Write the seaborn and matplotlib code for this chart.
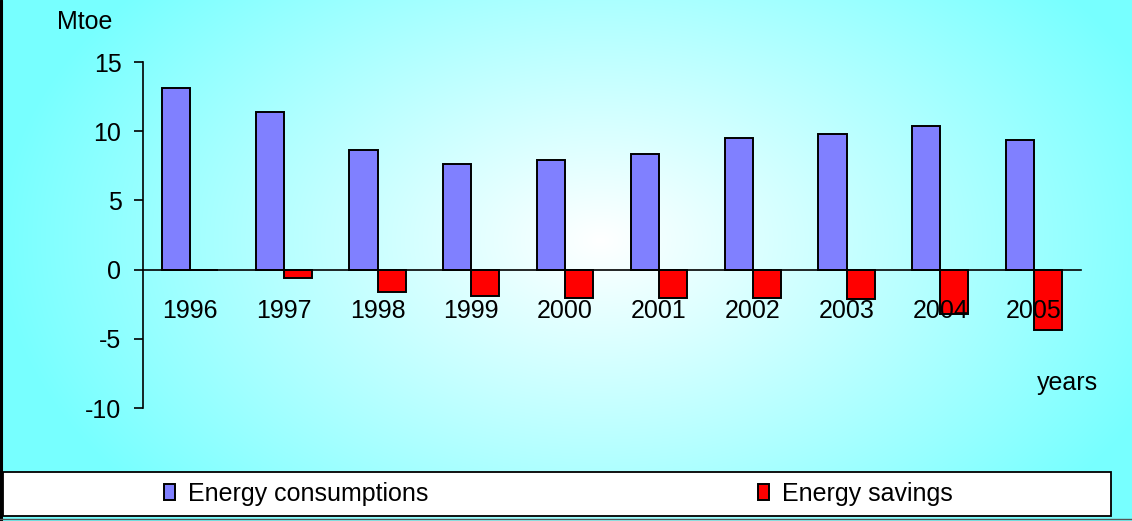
import numpy as np
import pandas as pd
import matplotlib
matplotlib.use("Agg")
import matplotlib.pyplot as plt
from matplotlib.patches import Rectangle
from matplotlib.lines import Line2D
import seaborn as sns

# Energy balance per year, in Mtoe
years = ["1996", "1997", "1998", "1999", "2000", "2001", "2002", "2003", "2004", "2005"]
consumptions = [13.1, 11.4, 8.65, 7.6, 7.9, 8.35, 9.5, 9.8, 10.4, 9.35]
savings = [0.0, -0.6, -1.6, -1.9, -2.05, -2.05, -2.05, -2.15, -3.2, -4.35]
series_names = ["Energy consumptions", "Energy savings"]
series_colors = ["#8080FF", "#FF0000"]
y_ticks = [-10, -5, 0, 5, 10, 15]

sns.set_theme(style="white")
plt.rcParams["font.family"] = ["Liberation Sans", "DejaVu Sans"]
plt.rcParams["axes.unicode_minus"] = False
plt.rcParams["text.color"] = "black"
plt.rcParams["xtick.color"] = "black"
plt.rcParams["ytick.color"] = "black"

FS = 18
W, H = 1132, 521
fig = plt.figure(figsize=(W / 100, H / 100), dpi=100)

# soft radial backdrop: white in the middle fading to cyan at the edges
bg = fig.add_axes([0, 0, 1, 1], zorder=-10)
gx, gy = np.meshgrid(np.arange(W), np.arange(H))
t = np.sqrt(((gx - 600) / 600.0) ** 2 + ((gy - 240) / 390.0) ** 2)
t = np.clip(t, 0, 1)
edge = np.array([0.47, 1.0, 1.0])
img = (1 - t)[..., None] * np.array([1.0, 1.0, 1.0]) + t[..., None] * edge
bg.imshow(img, aspect="auto", extent=[0, 1, 0, 1], origin="upper")
bg.set_axis_off()

df = pd.DataFrame({
    "year": years * 2,
    "value": consumptions + savings,
    "series": [series_names[0]] * len(years) + [series_names[1]] * len(years),
})

ax = fig.add_axes([143 / W, 1 - 408 / H, (1081 - 143) / W, (408 - 62) / H])
ax.set_facecolor("none")
sns.barplot(data=df, x="year", y="value", hue="series", hue_order=series_names,
            palette=series_colors, width=0.6, edgecolor="black", linewidth=1.4,
            errorbar=None, saturation=1, ax=ax, zorder=1)

handles, labels = ax.get_legend_handles_labels()
if ax.get_legend() is not None:
    ax.get_legend().remove()

ax.set_xlim(-0.5, len(years) - 0.5)
ax.set_ylim(-10, 15)
ax.set_yticks(y_ticks)
ax.set_yticklabels([str(v) for v in y_ticks])
ax.set_xlabel("")
ax.set_ylabel("")

for s in ["top", "right"]:
    ax.spines[s].set_visible(False)
ax.spines["bottom"].set_position(("data", 0))
for s in ["left", "bottom"]:
    ax.spines[s].set_linewidth(1.2)
    ax.spines[s].set_color("black")
    ax.spines[s].set_zorder(4)
# year labels sit on top of the negative bars
ax.xaxis.set_zorder(5)
ax.yaxis.set_zorder(5)

ax.set_xticks(np.arange(-0.5, len(years), 1), minor=True)
ax.tick_params(axis="x", which="major", length=0, pad=21, labelsize=FS, labelcolor="black")
ax.tick_params(axis="x", which="minor", length=6, width=1.2, direction="out", color="black")
ax.tick_params(axis="y", which="major", length=6.5, width=1.2, direction="out",
               left=True, pad=9, labelsize=FS, labelcolor="black", color="black")

fig.text(57 / W, 1 - 29 / H, "Mtoe", fontsize=FS, va="baseline", ha="left")
fig.text(1037 / W, 1 - 390 / H, "years", fontsize=FS, va="baseline", ha="left")

# legend panel along the bottom
fig.add_artist(Rectangle((3 / W, 1 - 516 / H), (1111 - 3) / W, (516 - 472) / H,
                         transform=fig.transFigure, facecolor="white",
                         edgecolor="black", linewidth=1.3, zorder=2))
leg_y = 1 - 494 / H
for h, l, x0 in zip(handles, labels, [164 / W, 758 / W]):
    fig.legend([h], [l], loc="center left", bbox_to_anchor=(x0, leg_y),
               frameon=False, borderpad=0, borderaxespad=0, fontsize=FS,
               handlelength=0.45, handleheight=0.6, handletextpad=0.5)

# outer frame lines
fig.add_artist(Line2D([1 / W, 1 / W], [0, 1], transform=fig.transFigure,
                      color="black", linewidth=2.2, zorder=3))
fig.add_artist(Line2D([0, 1], [1 - 519 / H, 1 - 519 / H], transform=fig.transFigure,
                      color="#555555", linewidth=1.0, zorder=3))

fig.savefig("out.png", dpi=100)
